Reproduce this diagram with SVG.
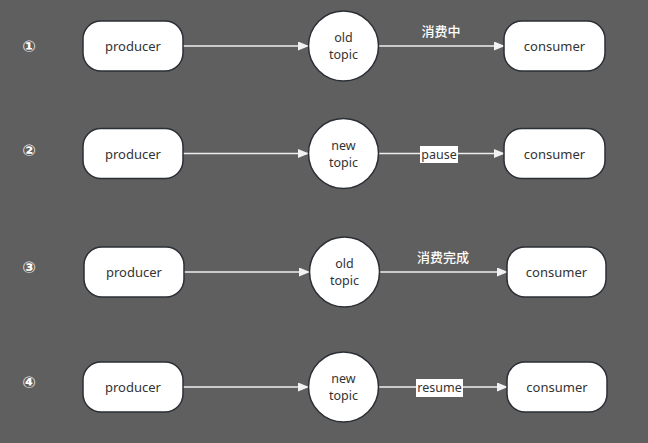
<svg xmlns="http://www.w3.org/2000/svg" width="648" height="443" viewBox="0 0 648 443">
<style>
.bg{fill:#5f5f5f}
.box{fill:#fff;stroke:#2b2f36;stroke-width:1.5}
.t{font-family:"Noto Sans","Open Sans","Noto Sans CJK SC",sans-serif;font-size:13px;fill:#333;text-anchor:middle}
.tt{font-family:"Noto Sans","Open Sans","Noto Sans CJK SC",sans-serif;font-size:12.5px;fill:#333;text-anchor:middle}
.num{font-family:"DejaVu Sans","Noto Sans CJK SC",sans-serif;font-size:16px;font-weight:bold;fill:#fff;text-anchor:middle}
.lab{font-family:"Noto Sans CJK SC","Noto Sans",sans-serif;font-size:13px;font-weight:500;fill:#fff;text-anchor:middle}
.lab2{font-family:"Noto Sans","Open Sans",sans-serif;font-size:12.5px;fill:#333;text-anchor:middle}
.edge{stroke:#eeeeee;stroke-width:1.5;fill:none;marker-end:url(#ah)}
</style>
<defs>
<marker id="ah" markerWidth="11" markerHeight="9" refX="10" refY="4.5" orient="auto" markerUnits="userSpaceOnUse">
<path d="M0,0 L11,4.5 L0,9 Z" fill="#f2f2f2"/>
</marker>
</defs>
<rect class="bg" x="0" y="0" width="648" height="443"/>

<g id="nums">
<text class="num" x="29" y="52">①</text>
<text class="num" x="29" y="156">②</text>
<text class="num" x="29" y="273">③</text>
<text class="num" x="29" y="388">④</text>
</g>

<g id="connectors">
<path class="edge" d="M183,46 L308,46"/>
<path class="edge" d="M379,46 L504,46"/>
<path class="edge" d="M183,153.5 L308,153.5"/>
<path class="edge" d="M379,153.5 L504,153.5"/>
<path class="edge" d="M184,272 L309,272"/>
<path class="edge" d="M380,272 L507,272"/>
<path class="edge" d="M183,387 L308,387"/>
<path class="edge" d="M379,387 L507,387"/>
</g>

<g id="labels">
<text class="lab" x="441" y="36">消费中</text>
<rect x="420" y="146" width="38" height="17" fill="#fff"/>
<text class="lab2" x="439" y="159">pause</text>
<text class="lab" x="443" y="262">消费完成</text>
<rect x="416" y="379" width="47" height="18" fill="#fff"/>
<text class="lab2" x="439.5" y="392">resume</text>
</g>

<g id="producer1"><rect class="box" x="83" y="21" width="100" height="50" rx="18"/><text class="t" x="133" y="51">producer</text></g>
<g id="topic1"><circle class="box" cx="343.5" cy="46" r="35"/><text class="tt" x="343.5" y="42">old</text><text class="tt" x="343.5" y="59">topic</text></g>
<g id="consumer1"><rect class="box" x="504" y="21" width="101" height="50" rx="18"/><text class="t" x="554.5" y="51">consumer</text></g>

<g id="producer2"><rect class="box" x="83" y="128.5" width="100" height="50" rx="18"/><text class="t" x="133" y="158.5">producer</text></g>
<g id="topic2"><circle class="box" cx="343.5" cy="153.5" r="35"/><text class="tt" x="343.5" y="149.5">new</text><text class="tt" x="343.5" y="166.5">topic</text></g>
<g id="consumer2"><rect class="box" x="504" y="128.5" width="101" height="50" rx="18"/><text class="t" x="554.5" y="158.5">consumer</text></g>

<g id="producer3"><rect class="box" x="84" y="247" width="100" height="50" rx="18"/><text class="t" x="134" y="277">producer</text></g>
<g id="topic3"><circle class="box" cx="344.5" cy="272" r="35"/><text class="tt" x="344.5" y="268">old</text><text class="tt" x="344.5" y="285">topic</text></g>
<g id="consumer3"><rect class="box" x="507" y="247" width="99" height="50" rx="18"/><text class="t" x="556.5" y="277">consumer</text></g>

<g id="producer4"><rect class="box" x="83" y="362" width="100" height="50" rx="18"/><text class="t" x="133" y="392">producer</text></g>
<g id="topic4"><circle class="box" cx="343.5" cy="387" r="35"/><text class="tt" x="343.5" y="383">new</text><text class="tt" x="343.5" y="400">topic</text></g>
<g id="consumer4"><rect class="box" x="507" y="362" width="100" height="50" rx="18"/><text class="t" x="557" y="392">consumer</text></g>
</svg>
